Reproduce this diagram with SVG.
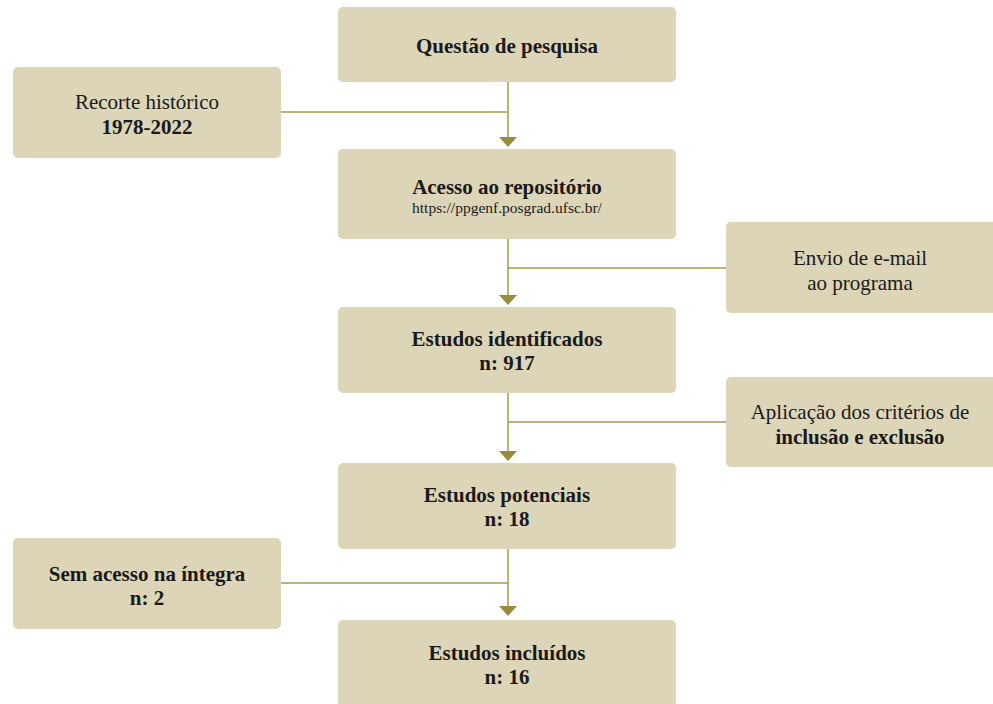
<svg xmlns="http://www.w3.org/2000/svg" width="993" height="704" viewBox="0 0 993 704">
<style>
.box{fill:#DDD5B8}
.t{font-family:"Liberation Serif","DejaVu Serif",serif;font-size:21px;fill:#1a1a1a;text-anchor:middle}
.b{font-weight:bold}
.s{font-size:15.5px}
.ln{stroke:#A89A4E;stroke-width:1.5;fill:none}
.ah{fill:#9A8A3E}
</style>
<rect width="993" height="704" fill="#ffffff"/>
<g id="connectors">
<path class="ln" d="M508 82V138M281 112H508"/>
<path class="ln" d="M508 239V296M508 268H726"/>
<path class="ln" d="M508 393V452M508 422H726"/>
<path class="ln" d="M508 549V607M281 583H508"/>
<polygon class="ah" points="499,137 517,137 508,147"/>
<polygon class="ah" points="499,295 517,295 508,305"/>
<polygon class="ah" points="499,451 517,451 508,461"/>
<polygon class="ah" points="499,606 517,606 508,616"/>
</g>
<g id="questao">
<rect class="box" x="338" y="7" width="338" height="75" rx="5"/>
<text class="t b" x="507" y="53">Questão de pesquisa</text>
</g>
<g id="recorte">
<rect class="box" x="13" y="67" width="268" height="91" rx="5"/>
<text class="t" x="147" y="109">Recorte histórico</text>
<text class="t b" x="147" y="134">1978-2022</text>
</g>
<g id="acesso">
<rect class="box" x="338" y="149" width="338" height="90" rx="5"/>
<text class="t b" x="507" y="194">Acesso ao repositório</text>
<text class="t s" x="507" y="213">https://ppgenf.posgrad.ufsc.br/</text>
</g>
<g id="envio">
<rect class="box" x="726" y="222" width="280" height="91" rx="5"/>
<text class="t" x="860" y="265">Envio de e-mail</text>
<text class="t" x="860" y="290">ao programa</text>
</g>
<g id="identificados">
<rect class="box" x="338" y="307" width="338" height="86" rx="5"/>
<text class="t b" x="507" y="346">Estudos identificados</text>
<text class="t b" x="507" y="370">n: 917</text>
</g>
<g id="aplicacao">
<rect class="box" x="726" y="377" width="280" height="90" rx="5"/>
<text class="t" x="860" y="419">Aplicação dos critérios de</text>
<text class="t b" x="860" y="444">inclusão e exclusão</text>
</g>
<g id="potenciais">
<rect class="box" x="338" y="463" width="338" height="86" rx="5"/>
<text class="t b" x="507" y="502">Estudos potenciais</text>
<text class="t b" x="507" y="526">n: 18</text>
</g>
<g id="semacesso">
<rect class="box" x="13" y="538" width="268" height="91" rx="5"/>
<text class="t b" x="147" y="581">Sem acesso na íntegra</text>
<text class="t b" x="147" y="605">n: 2</text>
</g>
<g id="incluidos">
<rect class="box" x="338" y="620" width="338" height="95" rx="5"/>
<text class="t b" x="507" y="660">Estudos incluídos</text>
<text class="t b" x="507" y="684">n: 16</text>
</g>
</svg>
